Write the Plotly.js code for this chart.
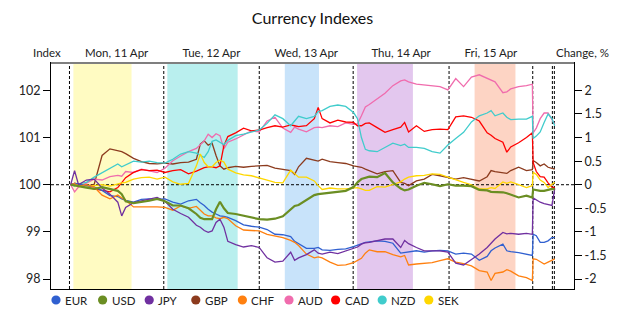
<!DOCTYPE html>
<html><head><meta charset="utf-8">
<script src="https://cdn.plot.ly/plotly-3.0.1.min.js"></script>
<style>html,body{margin:0;padding:0;background:#fff}#chart{width:625px;height:315px}</style>
</head><body><div id="chart"></div>
<script>
// time in hours from Monday open
const times = [0,1,2,4,6,8,10,12,13,14,
  16,18,20,22,24,26,28,30,32,33,
  34,35,36,37,38,39,40,42,44,46,
  48,50,52,54,56,57,58,60,62,63,
  64,66,68,70,72,73,74,75,76,78,
  80,82,84,85,86,88,90,92,94,96,
  98,100,102,104,106,107,108,110,111,112,
  114,116,117.5,117.7,118.5,119.5,120.5,121.5,122.5,123.2];

const EUR = [100.00,100.03,100.02,99.98,99.95,99.88,99.77,99.75,99.70,99.67,
  99.63,99.69,99.70,99.69,99.70,99.63,99.59,99.66,99.69,99.62,
  99.56,99.48,99.42,99.38,99.34,99.33,99.31,99.24,99.15,99.12,
  99.10,99.05,98.95,98.94,98.90,98.80,98.75,98.65,98.65,98.67,
  98.62,98.61,98.63,98.64,98.69,98.72,98.74,98.78,98.79,98.81,
  98.80,98.76,98.55,98.56,98.58,98.60,98.57,98.60,98.61,98.60,
  98.53,98.55,98.53,98.40,98.48,98.60,98.66,98.74,98.60,98.58,
  98.56,98.53,98.50,98.95,98.92,98.78,98.78,98.81,98.88,98.88];
const USD = [100.00,99.98,99.97,99.94,99.91,99.95,99.91,99.87,99.80,99.65,
  99.61,99.63,99.66,99.70,99.65,99.56,99.56,99.50,99.38,99.30,
  99.27,99.27,99.27,99.48,99.64,99.50,99.40,99.38,99.34,99.31,
  99.27,99.26,99.28,99.33,99.47,99.55,99.57,99.68,99.78,99.80,
  99.81,99.83,99.85,99.87,99.95,100.05,100.12,100.15,100.17,100.16,
  100.25,100.05,99.92,99.88,99.90,99.98,100.04,100.01,99.97,100.01,
  99.98,99.98,99.97,99.89,99.88,99.85,99.85,99.84,99.82,99.79,
  99.73,99.77,99.73,99.90,99.88,99.87,99.87,99.89,99.91,99.90];
const JPY = [100.00,100.30,100.00,100.10,100.12,99.93,99.80,99.63,99.34,99.52,
  99.62,99.66,99.70,99.73,99.65,99.48,99.39,99.31,99.14,99.10,
  99.03,98.99,99.02,99.20,99.27,99.10,98.80,98.73,98.68,98.71,
  98.67,98.45,98.36,98.38,98.57,98.40,98.45,98.52,98.62,98.55,
  98.53,98.57,98.54,98.59,98.64,98.68,98.74,98.77,98.78,98.81,
  98.85,98.85,98.67,98.82,98.75,98.67,98.60,98.60,98.60,98.57,
  98.34,98.30,98.42,98.53,98.67,98.76,98.85,98.99,98.96,98.97,
  98.95,98.97,98.95,99.72,99.68,99.63,99.60,99.58,99.56,99.92];
const GBP = [100.00,100.03,100.02,99.97,100.01,100.62,100.76,100.73,100.70,100.66,
  100.56,100.49,100.45,100.44,100.46,100.44,100.47,100.48,100.54,100.86,
  100.93,100.84,100.88,100.62,100.40,100.33,100.36,100.39,100.37,100.39,
  100.40,100.41,100.35,100.33,100.30,100.22,100.38,100.56,100.51,100.50,
  100.54,100.49,100.47,100.45,100.40,100.38,100.37,100.33,100.30,100.23,
  100.28,100.30,100.05,100.03,99.98,100.08,100.12,100.22,100.19,100.16,
  100.12,100.15,100.12,100.08,100.17,100.30,100.28,100.26,100.24,100.30,
  100.37,100.30,100.32,100.51,100.47,100.40,100.44,100.37,100.35,100.33];
const CHF = [100.00,100.02,99.97,100.00,99.95,99.78,99.70,99.78,99.72,99.67,
  99.53,99.53,99.54,99.53,99.52,99.46,99.55,99.50,99.54,99.45,
  99.38,99.34,99.34,99.30,99.28,99.31,99.28,99.13,99.04,99.03,
  99.02,98.95,98.91,98.88,98.82,98.78,98.71,98.53,98.45,98.47,
  98.45,98.36,98.29,98.30,98.35,98.40,98.44,98.55,98.62,98.58,
  98.58,98.52,98.47,98.50,98.30,98.32,98.34,98.35,98.39,98.43,
  98.36,98.33,98.28,98.18,98.15,97.97,98.12,98.15,98.20,98.17,
  98.07,98.03,97.97,98.43,98.42,98.37,98.32,98.36,98.40,98.43];
const AUD = [100.00,99.85,99.95,100.04,100.12,100.10,100.17,100.20,100.18,100.28,
  100.26,100.33,100.30,100.26,100.35,100.51,100.61,100.70,100.77,100.85,
  100.93,101.07,101.00,101.08,101.04,100.76,100.90,100.97,101.05,101.14,
  101.12,101.35,101.43,101.20,101.11,101.22,101.18,101.12,101.21,101.22,
  101.21,101.25,101.23,101.31,101.28,101.29,101.46,101.65,101.70,101.83,
  101.94,102.10,102.20,102.22,102.18,102.13,102.11,102.10,102.08,102.01,
  102.25,102.08,102.28,102.33,102.25,102.21,102.18,101.95,101.97,102.03,
  102.08,102.10,102.13,101.10,101.20,101.40,101.52,101.52,101.38,101.28];
const CAD = [100.00,100.03,100.02,99.95,99.91,99.88,99.85,99.94,100.05,100.15,
  100.26,100.32,100.30,100.31,100.26,100.30,100.32,100.23,100.29,100.33,
  100.36,100.38,100.38,100.36,100.40,100.83,101.02,101.10,101.20,101.14,
  101.16,101.21,101.25,101.22,101.27,101.25,101.23,101.25,101.40,101.64,
  101.40,101.31,101.37,101.33,101.32,101.25,101.25,101.30,101.31,101.21,
  101.11,101.17,101.22,101.32,101.12,101.25,101.13,101.17,101.18,101.17,
  101.44,101.46,101.43,101.35,101.10,101.05,100.98,100.90,100.69,100.80,
  100.89,101.00,101.10,100.47,100.28,100.17,100.16,100.04,99.95,99.94];
const NZD = [100.00,99.97,100.02,100.05,100.16,100.25,100.35,100.44,100.38,100.42,
  100.50,100.48,100.50,100.47,100.46,100.54,100.65,100.70,100.67,100.62,
  100.58,100.70,100.92,100.95,100.90,100.85,100.94,101.04,101.07,101.11,
  101.16,101.30,101.48,101.40,101.25,101.35,101.45,101.40,101.45,101.55,
  101.57,101.66,101.69,101.66,101.53,101.40,101.00,100.75,100.72,100.70,
  100.79,100.88,100.83,100.86,100.79,100.79,100.77,100.70,100.67,100.84,
  100.98,101.11,101.33,101.46,101.52,101.57,101.46,101.52,101.43,101.38,
  101.39,101.39,101.45,100.98,101.03,101.12,101.32,101.50,101.40,101.25];
const SEK = [100.00,100.02,100.00,99.96,99.98,100.00,99.97,100.02,100.04,100.05,
  100.12,100.15,100.16,100.12,100.16,100.06,100.01,100.03,100.40,100.65,
  100.47,100.38,100.38,100.47,100.52,100.48,100.33,100.25,100.21,100.19,
  100.15,100.10,100.05,100.04,100.31,100.23,100.16,100.16,100.08,99.98,
  99.90,99.93,99.91,99.91,99.93,99.94,99.91,99.88,99.88,99.96,
  99.95,100.00,100.06,100.12,100.16,100.19,100.20,100.23,100.22,100.16,
  100.10,100.05,100.00,99.91,99.91,99.94,99.92,100.06,100.03,100.06,
  100.00,99.94,99.98,100.26,100.22,100.10,100.05,99.94,100.01,100.05];

const currencies = ['EUR','USD','JPY','GBP','CHF','AUD','CAD','NZD','SEK'];
const seriesList = [EUR, USD, JPY, GBP, CHF, AUD, CAD, NZD, SEK];
const colors = ['#3060D0','#6B8E23','#7030A0','#8C3B1E','#FF8010','#F06CAD','#FF0000','#40CCCC','#FFD700'];
const lineWidths = [1.3,2.2,1.3,1.3,1.3,1.3,1.3,1.3,1.3];
const drawOrder = [3,5,6,7,8,0,4,2,1];

const dayLabels = ['Mon, 11 Apr','Tue, 12 Apr','Wed, 13 Apr','Thu, 14 Apr','Fri, 15 Apr'];
const dayBounds = [-0.3, 23.7, 48.0, 71.9, 96.3, 117.6, 122.6, 123.1];
const sessionStart = [0.7, 24.6, 54.5, 72.9, 102.8];
const sessionEnd = [15.5, 42.5, 63.2, 87.1, 113.2];
const sessionColors = ['#FFFBC2','#B9EFEE','#C8E3FA','#E3C7EE','#FDD4C4'];
const indexTicks = [98,99,100,101,102];
const changeTicks = [-2,-1.5,-1,-0.5,0,0.5,1,1.5,2];
const changeTickText = ['-2','-1.5','-1','-0.5','0','0.5','1','1.5','2'];
const baseIndex = 100;
const indexRange = [97.79, 102.58];
const timeRange = [-5.0, 128.1];

seriesList.forEach((s,i)=>{ if(s.length!==times.length) throw new Error(currencies[i]+' length '+s.length+' vs '+times.length); });

const FONT = 'Lato, "Open Sans", sans-serif';
const W = 625, H = 315, M = {l:51, r:51, t:63, b:26};
const PW = W - M.l - M.r, PH = H - M.t - M.b;
const px2paperX = px => (px - M.l) / PW;
const px2paperY = py => (H - M.b - py) / PH;

const traces = [];
drawOrder.forEach(i=>{
  traces.push({type:'scatter', mode:'lines', x:times, y:seriesList[i], name:currencies[i],
    showlegend:false, xaxis:'x', yaxis:'y',
    line:{color:colors[i], width:lineWidths[i]}, hoverinfo:'skip'});
});
// anchor trace so the right-hand axis is drawn
traces.push({type:'scatter', mode:'markers', x:[null], y:[null], showlegend:false, xaxis:'x', yaxis:'y2'});

const dayMid = dayLabels.map((d,i)=>(dayBounds[i]+dayBounds[i+1])/2);
const shapes = [];
sessionStart.forEach((s,i)=>shapes.push({type:'rect', xref:'x', yref:'paper', x0:s, x1:sessionEnd[i], y0:0, y1:1,
  fillcolor:sessionColors[i], line:{width:0}, layer:'below'}));
dayBounds.forEach(b=>shapes.push({type:'line', xref:'x', yref:'paper', x0:b, x1:b, y0:0, y1:1,
  line:{color:'#000', width:1, dash:'3px,2px'}, layer:'below'}));
shapes.push({type:'line', xref:'paper', yref:'y', x0:0, x1:1, y0:baseIndex, y1:baseIndex,
  line:{color:'#000', width:1, dash:'3px,2px'}, layer:'below'});
shapes.push({type:'line', xref:'paper', yref:'paper', x0:0, x1:1, y0:1, y1:1, line:{color:'#7f7f7f', width:2}});

const annotations = [
  {text:'Index', xref:'paper', yref:'paper', x:px2paperX(47), y:px2paperY(52), xanchor:'center', yanchor:'middle', showarrow:false, font:{size:11.5, family:FONT, color:'#222'}},
  {text:'Change, %', xref:'paper', yref:'paper', x:px2paperX(582), y:px2paperY(52), xanchor:'center', yanchor:'middle', showarrow:false, font:{size:11.5, family:FONT, color:'#222'}}
];
// legend row: colored dot + currency name
const legendY = 300, legendX0 = 56, legendStep = 46.6;
currencies.forEach((c,i)=>{
  const cx = legendX0 + i*legendStep;
  shapes.push({type:'circle', xref:'paper', yref:'paper', xsizemode:'pixel', ysizemode:'pixel',
    xanchor:px2paperX(cx), yanchor:px2paperY(legendY), x0:-4.6, x1:4.6, y0:-4.6, y1:4.6,
    fillcolor:colors[i], line:{width:0}});
  annotations.push({text:c, xref:'paper', yref:'paper', x:px2paperX(cx+7), y:px2paperY(legendY), xanchor:'left', yanchor:'middle',
    showarrow:false, font:{size:11.5, family:FONT, color:'#222'}});
});

const layout = {
  width:W, height:H, margin:M,
  paper_bgcolor:'#fff', plot_bgcolor:'#fff',
  font:{family:FONT, color:'#222', size:12},
  title:{text:'Currency Indexes', font:{family:FONT, size:16, color:'#111'}, x:0.5, xanchor:'center', y:1-18/315, yanchor:'middle', yref:'container'},
  showlegend:false,
  xaxis:{type:'linear', range:timeRange, side:'top', tickmode:'array', tickvals:dayMid, ticktext:dayLabels,
    ticks:'', showgrid:false, zeroline:false, showline:true, mirror:true, linecolor:'#000', linewidth:1,
    tickfont:{size:11.5, family:FONT, color:'#222'}, fixedrange:true},
  yaxis:{range:indexRange, tickmode:'array', tickvals:indexTicks, ticks:'outside', ticklen:7, tickcolor:'#000',
    showgrid:false, zeroline:false, showline:true, linecolor:'#000', linewidth:1, tickfont:{size:12.5, family:FONT, color:'#222'}},
  yaxis2:{range:indexRange.map(v=>v-baseIndex), overlaying:'y', side:'right', tickmode:'array', tickvals:changeTicks, ticktext:changeTickText,
    ticks:'outside', ticklen:7, tickcolor:'#000', showgrid:false, zeroline:false, showline:true, linecolor:'#000', linewidth:1,
    tickfont:{size:12.5, family:FONT, color:'#222'}},
  shapes:shapes,
  annotations:annotations,
  hovermode:false
};
Plotly.newPlot('chart', traces, layout, {displayModeBar:false, staticPlot:true});
</script></body></html>
